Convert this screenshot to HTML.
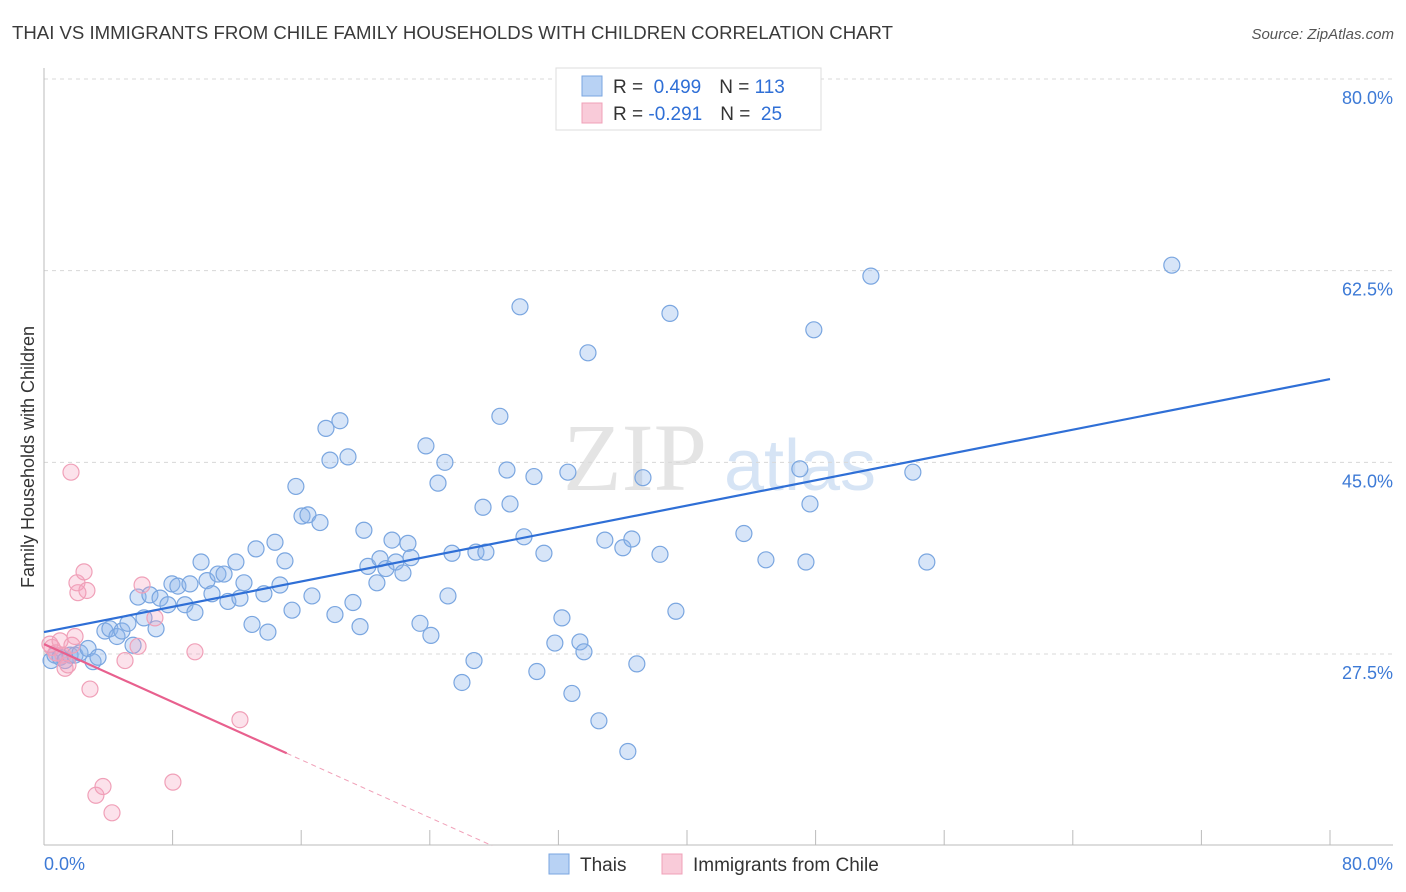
<!DOCTYPE html>
<html><head><meta charset="utf-8"><style>
body{margin:0;background:#fff;font-family:"Liberation Sans",sans-serif;}
#wrap{position:relative;width:1406px;height:892px;overflow:hidden;}
</style></head><body>
<div id="wrap">
<svg id="svg" width="1406" height="892" xmlns="http://www.w3.org/2000/svg">
<text x="12" y="39" font-size="18" textLength="881" lengthAdjust="spacingAndGlyphs" fill="#3a3a3a">THAI VS IMMIGRANTS FROM CHILE FAMILY HOUSEHOLDS WITH CHILDREN CORRELATION CHART</text>
<text x="1394" y="39" font-size="15" fill="#555" font-style="italic" text-anchor="end">Source: ZipAtlas.com</text>
<text x="635" y="490" font-size="96" fill="#e4e4e4" font-family="Liberation Serif,serif" text-anchor="middle">ZIP</text>
<text x="800" y="490" font-size="72" fill="#d6e4f5" text-anchor="middle">atlas</text>
<text transform="translate(34,457) rotate(-90)" font-size="18" fill="#333" text-anchor="middle">Family Households with Children</text>
<g id="grid"></g><g id="axes"></g><g id="marks"></g>
<g>
<rect x="556" y="68" width="265" height="62" fill="#fff" stroke="#ddd"/>
<rect x="582" y="76" width="20" height="20" fill="#b8d2f4" stroke="#7aa6e0"/>
<rect x="582" y="103" width="20" height="20" fill="#f9cbd9" stroke="#f0a0b8"/>
<text x="613" y="93" font-size="19" fill="#333">R = <tspan fill="#2f6fd6">&#160;0.499</tspan><tspan dx="18">N = </tspan><tspan fill="#2f6fd6">113</tspan></text>
<text x="613" y="120" font-size="19" fill="#333">R = <tspan fill="#2f6fd6">-0.291</tspan><tspan dx="18">N = </tspan><tspan fill="#2f6fd6">&#160;25</tspan></text>
</g>
<g>
<rect x="549" y="854" width="20" height="20" fill="#b8d2f4" stroke="#7aa6e0"/>
<text x="580" y="871" font-size="19" fill="#333">Thais</text>
<rect x="662" y="854" width="20" height="20" fill="#f9cbd9" stroke="#f0a0b8"/>
<text x="693" y="871" font-size="19" fill="#333">Immigrants from Chile</text>
</g>
</svg>
</div>
<script>
const yTicks=[80,62.5,45,27.5];
const xTickLabels=["0.0%","80.0%"];
const blueX=[0.44,0.68,1.0,1.31,1.62,1.93,2.24,2.74,3.05,3.36,3.79,4.1,4.54,4.85,5.22,5.54,5.85,6.22,6.59,6.97,7.22,7.71,7.96,8.33,8.77,9.08,9.39,9.77,10.14,10.45,10.82,11.2,11.44,11.94,12.19,12.44,12.94,13.19,13.68,13.93,14.37,14.68,14.99,15.43,15.67,16.05,16.42,16.67,17.17,17.54,17.79,18.1,18.41,18.91,19.22,19.66,19.9,20.15,20.71,20.9,21.27,21.65,21.89,22.33,22.64,22.83,23.39,23.76,24.07,24.51,24.94,25.13,25.38,26.0,26.75,26.87,27.31,27.49,28.36,28.8,28.99,29.61,29.86,30.48,30.66,31.1,31.78,32.22,32.59,32.84,33.34,33.59,33.84,34.52,34.89,36.01,36.32,36.57,36.88,37.26,38.32,38.94,39.31,43.54,44.91,47.02,47.4,47.65,47.89,51.44,54.05,54.92,70.16];
const blueY=[26.9,27.4,27.2,26.9,27.4,27.4,27.6,28.0,26.8,27.2,29.6,29.8,29.1,29.6,30.3,28.3,32.7,30.8,32.9,29.8,32.6,32.0,33.9,33.7,32.0,33.9,31.3,35.9,34.2,33.0,34.8,34.8,32.3,35.9,32.6,34.0,30.2,37.1,33.0,29.5,37.7,33.8,36.0,31.5,42.8,40.1,40.2,32.8,39.5,48.1,45.2,31.1,48.8,45.5,32.2,30.0,38.8,35.5,34.0,36.2,35.3,37.9,35.9,34.9,37.6,36.3,30.3,46.5,29.2,43.1,45.0,32.8,36.7,24.9,26.9,36.8,40.9,36.8,49.2,44.3,41.2,59.2,38.2,43.7,25.9,36.7,28.5,30.8,44.1,23.9,28.6,27.7,55.0,21.4,37.9,37.2,18.6,38.0,26.6,43.6,36.6,58.6,31.4,38.5,36.1,44.4,35.9,41.2,57.1,62.0,44.1,35.9,63.0];
const pinkX=[0.37,0.5,0.75,1.0,1.18,1.31,1.49,1.74,1.93,1.68,2.11,2.05,2.49,2.67,2.86,3.23,3.67,4.23,5.04,5.85,6.1,6.9,8.02,9.39,12.19];
const pinkY=[28.4,28.1,27.6,28.7,27.4,26.2,26.5,28.3,29.1,44.1,33.1,34.0,35.0,33.3,24.3,14.6,15.4,13.0,26.9,28.2,33.8,30.8,15.8,27.7,21.5];
const blueTrend=[29.5,52.6];
const pinkTrend=[28.4,-0.66];
const pinkSolidEnd=[15.1];
const NS="http://www.w3.org/2000/svg";
const X=v=>44+v*(1330-44)/80;
const Y=v=>79+(80-v)*(654-79)/52.5;
function mk(tag,attrs,parent){const e=document.createElementNS(NS,tag);for(const k in attrs)e.setAttribute(k,attrs[k]);parent.appendChild(e);return e;}
const grid=document.getElementById('grid'),axes=document.getElementById('axes'),marks=document.getElementById('marks');
yTicks.forEach(t=>{
 const l=mk('line',{x1:44,x2:1393,y1:Y(t),y2:Y(t),stroke:'#d8d8d8','stroke-dasharray':'4,4'},grid);
 
 
 const tx=mk('text',{x:1393,y:Y(t)+25,'font-size':18,fill:'#3d7ad6','text-anchor':'end'},grid);
 tx.textContent=t.toFixed(1)+'%';
 
 
});
mk('line',{x1:44,x2:44,y1:68,y2:845,stroke:'#bbb'},axes);
mk('line',{x1:44,x2:1393,y1:845,y2:845,stroke:'#bbb'},axes);
for(let i=0;i<=10;i++){const l=mk('line',{x1:X(i*8),x2:X(i*8),y1:830,y2:845,stroke:'#bbb'},axes);
 
 }
const xl0=mk('text',{x:44,y:870,'font-size':18,fill:'#3d7ad6'},axes);xl0.textContent=xTickLabels[0];


const xl1=mk('text',{x:1393,y:870,'font-size':18,fill:'#3d7ad6','text-anchor':'end'},axes);xl1.textContent=xTickLabels[1];


blueX.forEach((x,i)=>{const c=mk('circle',{cx:X(x),cy:Y(blueY[i]),r:8,fill:'rgba(140,180,235,0.35)',stroke:'#7aa6e0','stroke-width':1.2},marks);
 
 });
pinkX.forEach((x,i)=>{const c=mk('circle',{cx:X(x),cy:Y(pinkY[i]),r:8,fill:'rgba(245,160,190,0.3)',stroke:'#f0a0b8','stroke-width':1.2},marks);
 
 });
const bl=mk('line',{x1:X(0),y1:Y(blueTrend[0]),x2:X(80),y2:Y(blueTrend[1]),stroke:'#2f6fd6','stroke-width':2.2},marks);


const pe=pinkSolidEnd[0];
const pl=mk('line',{x1:X(0),y1:Y(pinkTrend[0]),x2:X(pe),y2:Y(pinkTrend[0]+pinkTrend[1]*pe),stroke:'#e8608e','stroke-width':2.2},marks);


const xEnd=(10-pinkTrend[0])/pinkTrend[1];
const pd=mk('line',{x1:X(pe),y1:Y(pinkTrend[0]+pinkTrend[1]*pe),x2:X(xEnd),y2:Y(10),stroke:'#f0a0b8','stroke-width':1,'stroke-dasharray':'5,4'},marks);


</script>
</body></html>
